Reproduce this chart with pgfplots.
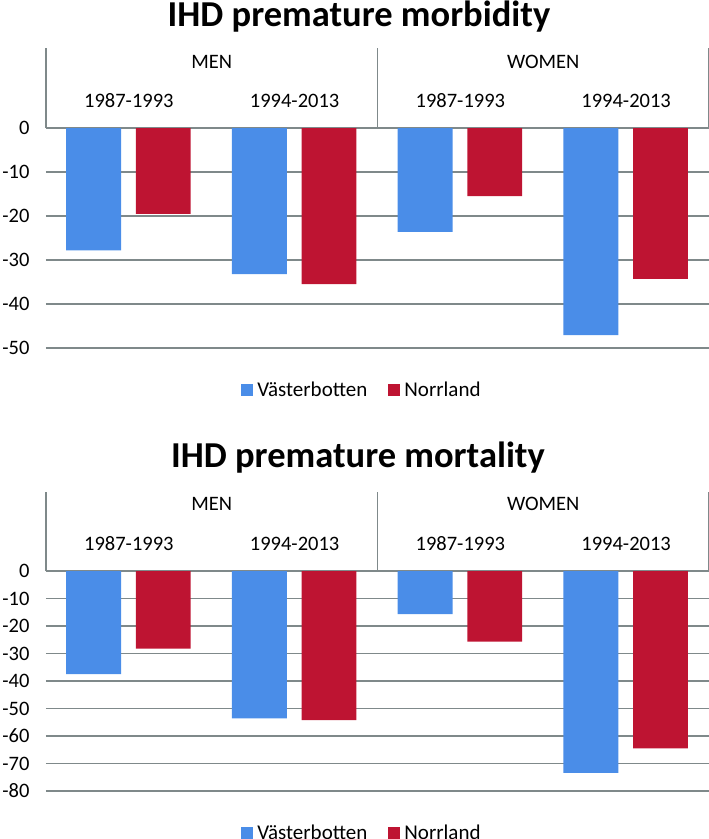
\documentclass[border=0pt]{standalone}
\usepackage{pgfplots}
\pgfplotsset{compat=1.18}
\usepackage{fontspec}
\setmainfont{Carlito}
\definecolor{vblue}{HTML}{4A8DE8}
\definecolor{nred}{HTML}{BE1432}
\definecolor{gridgray}{HTML}{7F898A}
\tikzset{hdr/.style={color=gridgray, line width=1.1pt}}
\pgfplotsset{
  ihd/.style={
    scale only axis, width=663pt, height=220pt,
    xmin=-0.5, xmax=3.5, enlargelimits=false, clip=false,
    axis line style={draw=none}, tick style={draw=none},
    ymajorgrids, grid style={color=gridgray, line width=1.1pt},
    xtick={0,1,2,3},
    xticklabels={1987-1993,1994-2013,1987-1993,1994-2013},
    xticklabel pos=upper,
    xticklabel style={anchor=center, yshift=27pt},
    yticklabel style={anchor=east, xshift=-13pt},
    /pgf/number format/assume math mode=true,
    every tick label/.append style={font=\fontsize{20.5}{24}\selectfont},
    legend columns=2,
    legend style={draw=none, fill=none, at={(0.4766,0)}, anchor=center, yshift=-42pt,
      font=\fontsize{21}{24}\selectfont,
      /tikz/every even column/.append style={column sep=19pt},
      nodes={inner sep=2pt}},
    legend image code/.code={\fill[##1] (0pt,-6pt) rectangle (12pt,6pt); \path (14pt,0pt);},
  },
}
\begin{document}
\begin{tikzpicture}
\path[use as bounding box] (0pt,0pt) rectangle (709pt,-839pt);
\node[font=\fontsize{36.5}{40}\selectfont\bfseries, anchor=base] at (359pt,-26pt) {IHD premature morbidity};
\node[font=\fontsize{36.5}{40}\selectfont\bfseries, anchor=base] at (358pt,-467pt) {IHD premature mortality};

\begin{axis}[ihd, at={(46pt,-348pt)}, anchor=south west,
  ymin=-50, ymax=0, ytick={-50,-40,-30,-20,-10,0}]
\addplot[ybar, bar width=0.331, bar shift=-0.213, fill=vblue, draw=none]
  coordinates {(0,-27.8) (1,-33.2) (2,-23.6) (3,-47.1)};
\addplot[ybar, bar width=0.331, bar shift=0.207, fill=nred, draw=none]
  coordinates {(0,-19.5) (1,-35.5) (2,-15.5) (3,-34.3)};
\legend{Västerbotten, Norrland}
\draw[hdr] (axis cs:-0.5,0) -- ++(0pt,80pt);
\draw[hdr] (axis cs:1.5,0) -- ++(0pt,80pt);
\draw[hdr] (axis cs:3.5,0) -- ++(0pt,80pt);
\node[font=\fontsize{20.5}{24}\selectfont] at ([yshift=66pt]axis cs:0.5,0) {MEN};
\node[font=\fontsize{20.5}{24}\selectfont] at ([yshift=66pt]axis cs:2.5,0) {WOMEN};
\end{axis}

\begin{axis}[ihd, at={(46pt,-791pt)}, anchor=south west,
  ymin=-80, ymax=0, ytick={-80,-70,-60,-50,-40,-30,-20,-10,0}]
\addplot[ybar, bar width=0.331, bar shift=-0.213, fill=vblue, draw=none]
  coordinates {(0,-37.5) (1,-53.6) (2,-15.7) (3,-73.4)};
\addplot[ybar, bar width=0.331, bar shift=0.207, fill=nred, draw=none]
  coordinates {(0,-28.2) (1,-54.2) (2,-25.7) (3,-64.5)};
\legend{Västerbotten, Norrland}
\draw[hdr] (axis cs:-0.5,0) -- ++(0pt,79pt);
\draw[hdr] (axis cs:1.5,0) -- ++(0pt,79pt);
\draw[hdr] (axis cs:3.5,0) -- ++(0pt,79pt);
\node[font=\fontsize{20.5}{24}\selectfont] at ([yshift=67pt]axis cs:0.5,0) {MEN};
\node[font=\fontsize{20.5}{24}\selectfont] at ([yshift=67pt]axis cs:2.5,0) {WOMEN};
\end{axis}
\end{tikzpicture}
\end{document}
